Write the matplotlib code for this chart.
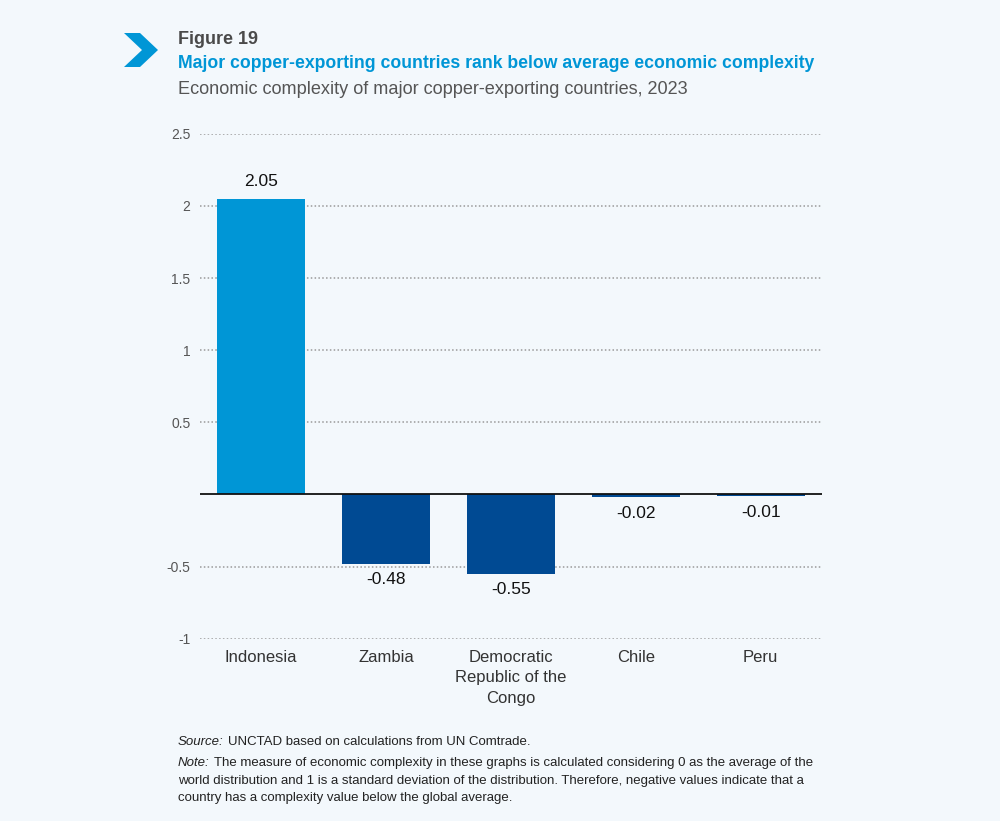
import matplotlib.pyplot as plt
from matplotlib.patches import Polygon

countries = ['Indonesia', 'Zambia', 'Democratic\nRepublic of the\nCongo', 'Chile', 'Peru']
values = [2.05, -0.48, -0.55, -0.02, -0.01]
bar_colors = ['#0096d6', '#004a93', '#004a93', '#004a93', '#004a93']
yticks = [-1, -0.5, 0.5, 1, 1.5, 2, 2.5]
ytick_labels = ['-1', '-0.5', '0.5', '1', '1.5', '2', '2.5']

plt.rcParams['font.family'] = ['Liberation Sans', 'DejaVu Sans']

bg = '#f3f8fc'
W, H = 1000, 821
fig = plt.figure(figsize=(10, 8.21), dpi=100, facecolor=bg)
ax = fig.add_axes([0.200, 0.222, 0.622, 0.615])
ax.set_facecolor(bg)

x = list(range(len(countries)))
ax.bar(x, values, width=0.7, color=bar_colors, zorder=3)
ax.set_xlim(-0.49, 4.49)
ax.set_ylim(-1, 2.5)

for xi, v in zip(x, values):
    if v >= 0:
        ax.text(xi, v + 0.07, f'{v:.2f}', ha='center', va='bottom', fontsize=12.5, color='#111111')
    else:
        ax.text(xi, v - 0.06, f'{v:.2f}', ha='center', va='top', fontsize=12.5, color='#111111')

for t in yticks:
    ax.axhline(t, color='#9a9a9a', lw=1.1, ls=(0, (1, 1.5)), zorder=1)
ax.axhline(0, color='#111111', lw=1.3, zorder=4)

ax.set_yticks(yticks)
ax.set_yticklabels(ytick_labels, fontsize=10, color='#555555')
ax.set_xticks(x)
ax.set_xticklabels(countries, fontsize=12, color='#333333', linespacing=1.45, va='top')
ax.tick_params(axis='both', length=0)
ax.tick_params(axis='y', pad=7)
ax.tick_params(axis='x', pad=8)
for s in ax.spines.values():
    s.set_visible(False)

# chevron icon
pts = [[124, 33], [140, 33], [158, 50], [140, 67], [124, 67], [142, 50]]
pts = [[px / W, 1 - py / H] for px, py in pts]
fig.patches.append(Polygon(pts, closed=True, transform=fig.transFigure,
                           facecolor='#0096d6', edgecolor='none'))

fig.text(0.178, 1 - 40 / H, 'Figure 19', fontsize=13, fontweight='bold',
         color='#4a4a4a', va='center')
fig.text(0.178, 1 - 64 / H, 'Major copper-exporting countries rank below average economic complexity',
         fontsize=12.7, fontweight='bold', color='#0096d6', va='center')
fig.text(0.178, 1 - 89 / H, 'Economic complexity of major copper-exporting countries, 2023',
         fontsize=13.1, color='#555555', va='center')

renderer = fig.canvas.get_renderer()


def lead_text(y, lead, rest, va):
    t = fig.text(0.178, y, lead, fontsize=9.5, style='italic', color='#222222', va=va)
    bb = t.get_window_extent(renderer)
    fig.text(bb.x1 / W + 0.004, y, rest, fontsize=9.5, color='#222222', va=va)


lead_text(1 - 736 / H, 'Source:', 'UNCTAD based on calculations from UN Comtrade.', 'top')
lead_text(1 - 757 / H, 'Note:',
          'The measure of economic complexity in these graphs is calculated considering 0 as the average of the', 'top')
fig.text(0.178, 1 - 775 / H,
         'world distribution and 1 is a standard deviation of the distribution. Therefore, negative values indicate that a\n'
         'country has a complexity value below the global average.',
         fontsize=9.5, color='#222222', va='top', linespacing=1.55)

fig.savefig('out.png', dpi=100, facecolor=bg)
